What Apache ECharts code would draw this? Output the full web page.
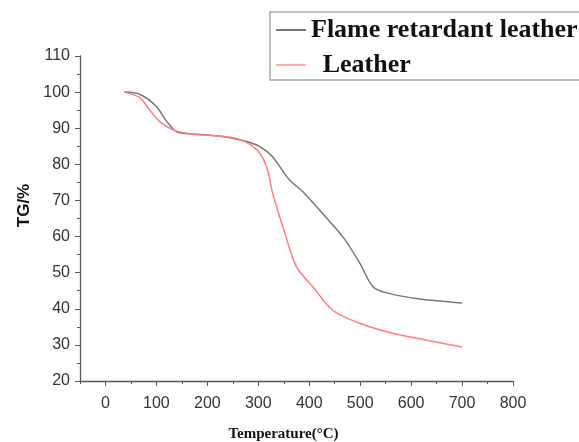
<!DOCTYPE html>
<html>
<head>
<meta charset="utf-8">
<script src="https://cdn.jsdelivr.net/npm/echarts@6/dist/echarts.min.js"></script>
<style>
html,body{margin:0;padding:0;background:#fff;}
#tg_chart{width:579px;height:442px;}
</style>
</head>
<body>
<div id="tg_chart"></div>
<script>
// values
var frTemp = [37, 67, 100, 120, 139, 165, 230, 277, 303, 328, 361, 387, 414, 466, 499, 525, 552, 617, 700];
var frTG   = [100, 99.4, 96, 91.9, 89.1, 88.5, 87.7, 86.3, 84.9, 82.1, 75.7, 72.5, 68.3, 59.9, 52.7, 46.1, 44.4, 42.7, 41.6];

var lTemp = [37, 67, 86, 106, 132, 165, 230, 263, 297, 316, 328, 352, 375, 407, 446, 499, 564, 631, 700];
var lTG   = [100, 98.5, 95.2, 91.9, 89.6, 88.5, 87.7, 86.9, 84.1, 79.4, 72.1, 61, 51.6, 46.1, 39.6, 36.0, 33.2, 31.3, 29.4];

var xTicks = [0, 100, 200, 300, 400, 500, 600, 700, 800];
var xMinorTicks = [-50, 50, 150, 250, 350, 450, 550, 650, 750];

function pairs(xs, ys){
	var out = [];
	for(var i=0;i<xs.length;i++){ out.push([xs[i], ys[i]]); }
	return out;
}

var tg_myChart = echarts.init(document.getElementById('tg_chart'));

var axisColor = '#555';
var labelFont = {color: '#333', fontFamily: 'Liberation Sans', fontSize: 16};

var tg_option = {
	animation : false,
	backgroundColor : '#fff',
	grid : {left: 80, right: 66, top: 56, bottom: 61, containLabel: false, outerBoundsMode: 'none'},
	legend : {
		orient : 'vertical',
		left : 270,
		top : 12,
		padding : [5, 24, 2, 6],
		itemGap : 9,
		itemWidth : 30,
		itemHeight : 2,
		icon : 'rect',
		borderColor : '#aaa',
		borderWidth : 1.5,
		textStyle : {fontFamily: 'Liberation Serif', fontWeight: 'bold', fontSize: 26, color: '#111'},
		data : ['Flame retardant leather', 'Leather'],
		formatter : function(n){ return n == 'Leather' ? '\u2009 ' + n : n; }
	},
	xAxis : [
		{
			type : 'value',
			min : -50,
			max : 800,
			name : 'Temperature(\u00B0C)',
			nameLocation : 'middle',
			nameGap : 46,
			nameTextStyle : {fontFamily: 'Liberation Serif', fontWeight: 'bold', fontSize: 15, color: '#111', padding: [0, 26, 0, 0]},
			axisLine : {show: true, onZero: false, lineStyle: {color: axisColor, width: 1.3}},
			axisTick : {show: true, length: 5, customValues: xTicks, lineStyle: {color: axisColor}},
			axisLabel : echarts.util.extend({customValues: xTicks, margin: 15}, labelFont),
			splitLine : {show: false}
		},
		{
			// short ticks at the half hundreds
			type : 'value',
			position : 'bottom',
			min : -50,
			max : 800,
			axisLine : {show: false, onZero: false},
			axisTick : {show: true, length: 3, customValues: xMinorTicks, lineStyle: {color: axisColor}},
			axisLabel : {show: false},
			splitLine : {show: false}
		}
	],
	yAxis : {
		type : 'value',
		min : 20,
		max : 110,
		interval : 10,
		name : 'TG/%',
		nameLocation : 'middle',
		nameGap : 46,
		nameTextStyle : {fontFamily: 'Liberation Sans', fontWeight: 'bold', fontSize: 17, color: '#111', padding: [0, 0, 0, 26]},
		axisLine : {show: true, onZero: false, lineStyle: {color: axisColor, width: 1.3}},
		axisTick : {show: true, length: 5, lineStyle: {color: axisColor}},
		minorTick : {show: true, splitNumber: 2, length: 3, lineStyle: {color: axisColor}},
		axisLabel : echarts.util.extend({margin: 10}, labelFont),
		splitLine : {show: false}
	},
	series : [
		{
			name : 'Flame retardant leather',
			type : 'line',
			smooth : 0.3,
			showSymbol : false,
			lineStyle : {color: '#777', width: 1.5},
			itemStyle : {color: '#777'},
			data : pairs(frTemp, frTG)
		},
		{
			name : 'Leather',
			type : 'line',
			smooth : 0.3,
			showSymbol : false,
			lineStyle : {color: '#ff7f7f', width: 1.5},
			itemStyle : {color: '#ffb0b0'},
			data : pairs(lTemp, lTG)
		}
	]
};

tg_myChart.setOption(tg_option);
</script>
</body>
</html>
